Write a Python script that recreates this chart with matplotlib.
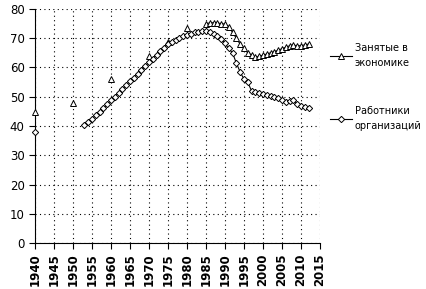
import numpy as np
import matplotlib
matplotlib.use('Agg')
import matplotlib.pyplot as plt

# occupied in economy (sparse before 1985)
occ_sparse_years = [1940, 1950, 1960, 1970, 1975, 1980]
occ_sparse_vals = [44.7, 47.8, 56.0, 64.0, 68.6, 73.4]
occ_years = list(range(1985, 2013))
occ_vals = [75.0, 75.2, 75.3, 75.2, 75.0, 74.8, 74.0, 72.0, 70.0, 68.0, 66.5, 65.0,
            64.3, 63.5, 63.8, 64.2, 64.6, 65.0, 65.4, 65.9, 66.4, 66.9, 67.4, 67.8,
            67.3, 67.5, 67.7, 68.0]

# workers of organizations
wrk_sparse_years = [1940]
wrk_sparse_vals = [37.9]
wrk_years = list(range(1953, 2013))
wrk_vals = [40.4, 41.4, 42.5, 43.6, 44.7, 46.0, 47.4, 48.8, 50.0, 51.3,
            52.5, 54.0, 55.3, 56.5, 57.8, 59.0, 60.4, 61.8, 63.0, 64.3,
            65.5, 66.8, 68.0, 68.8, 69.5, 70.2, 70.8, 71.2, 71.6, 72.0,
            72.2, 72.3, 72.3, 72.0, 71.3, 70.6, 69.8, 68.2, 66.5, 65.0,
            61.5, 58.5, 56.0, 55.0, 52.0, 51.5, 51.3, 51.0, 50.6, 50.2,
            49.8, 49.4, 49.0, 48.2, 48.6, 48.8, 47.5, 47.0, 46.5, 46.3]

xticks = list(range(1940, 2016, 5))
yticks = list(range(0, 81, 10))
labels = ['Занятые в\nэкономике', 'Работники\nорганизаций']

fig = plt.figure(figsize=(4.26, 2.89), dpi=100)
ax = fig.add_axes([0.082, 0.159, 0.669, 0.81])

ms = 3.8
mk = dict(mfc='white', mec='black', mew=0.7, clip_on=False, zorder=3)
l1, = ax.plot(occ_years, occ_vals, color='black', lw=0.8, marker='^', ms=ms, **mk)
ax.plot(occ_sparse_years, occ_sparse_vals, ls='none', marker='^', ms=ms, **mk)
l2, = ax.plot(wrk_years, wrk_vals, color='black', lw=0.8, marker='D', ms=ms - 0.6, **mk)
ax.plot(wrk_sparse_years, wrk_sparse_vals, ls='none', marker='D', ms=ms - 0.6, **mk)

ax.set_xlim(1940, 2015)
ax.set_ylim(0, 80)
ax.set_xticks(xticks)
ax.set_yticks(yticks)
ax.set_xticklabels([str(x) for x in xticks], rotation=90, fontsize=8.5, fontweight='bold')
ax.set_yticklabels([str(y) for y in yticks], fontsize=8.5)
ax.grid(True, color='black', ls=(0, (1, 3)), lw=0.8)
ax.spines['top'].set_visible(False)
ax.spines['right'].set_visible(False)
ax.tick_params(direction='out', length=4, width=0.8, colors='black')

leg = fig.legend([l1, l2], labels, loc='upper left', bbox_to_anchor=(0.755, 0.88),
                 frameon=False, fontsize=7, handlelength=2.2, handletextpad=0.3,
                 labelspacing=3.9)
for t in leg.get_texts():
    t.set_linespacing(1.6)

fig.savefig('out.png', dpi=100)
